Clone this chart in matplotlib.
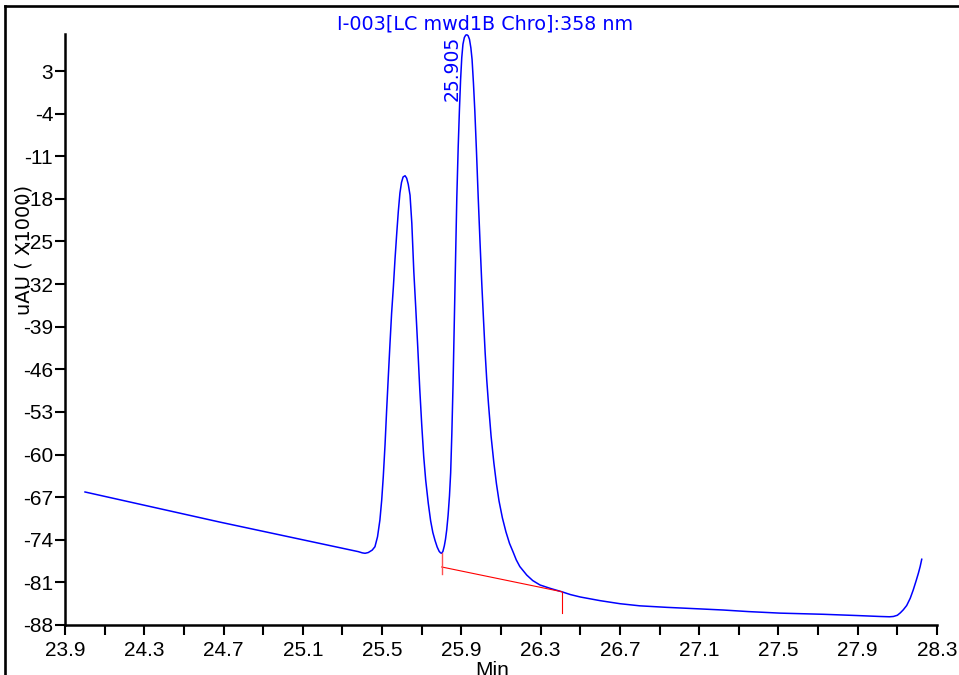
import matplotlib
matplotlib.use("Agg")
import matplotlib.pyplot as plt
from matplotlib.lines import Line2D

# ---- data ----
time_min = [24.001, 24.682, 25.380, 25.400, 25.414, 25.430, 25.450, 25.464, 25.477,
            25.489, 25.498, 25.506, 25.515, 25.523, 25.532, 25.540, 25.548, 25.557,
            25.565, 25.574, 25.582, 25.590, 25.598, 25.606, 25.616, 25.624, 25.632,
            25.641, 25.650, 25.660, 25.670, 25.680, 25.690, 25.700, 25.710, 25.720,
            25.733, 25.745, 25.756, 25.767, 25.778, 25.788, 25.795, 25.801, 25.807,
            25.814, 25.820, 25.826, 25.833, 25.840, 25.846, 25.852, 25.858, 25.863,
            25.870, 25.877, 25.884, 25.890, 25.896, 25.902, 25.908, 25.915, 25.922,
            25.928, 25.934, 25.941, 25.948, 25.954, 25.961, 25.968, 25.976, 25.985,
            25.994, 26.003, 26.012, 26.020, 26.028, 26.037, 26.050, 26.064, 26.077,
            26.090, 26.107, 26.125, 26.143, 26.161, 26.177, 26.195, 26.215, 26.230,
            26.260, 26.297, 26.350, 26.406, 26.450, 26.500, 26.550, 26.600, 26.700,
            26.800, 26.936, 27.100, 27.222, 27.350, 27.508, 27.726, 27.900, 28.012,
            28.060, 28.080, 28.100, 28.115, 28.130, 28.147, 28.165, 28.180, 28.195,
            28.206, 28.215, 28.223]
signal = [-66.15, -71.10, -75.95, -76.15, -76.22, -76.10, -75.70, -75.14, -73.50,
          -70.75, -67.50, -63.64, -58.30, -52.68, -46.80, -41.68, -36.80, -32.43,
          -28.00, -23.61, -20.00, -17.04, -15.30, -14.40, -14.20, -14.60, -15.60,
          -17.40, -22.00, -29.90, -36.00, -42.40, -49.20, -55.10, -60.30, -64.20,
          -68.00, -70.90, -72.80, -74.10, -75.20, -75.90, -76.15, -76.22, -75.90,
          -75.00, -73.90, -72.40, -70.00, -66.80, -63.00, -56.50, -48.50, -40.40,
          -29.00, -17.80, -9.50, -3.60, 1.50, 5.20, 7.40, 8.50, 8.90,
          8.95, 8.80, 8.20, 6.80, 4.90, 1.00, -3.60, -10.00, -17.76,
          -25.00, -31.90, -38.00, -43.26, -47.70, -51.75, -57.00, -61.37, -64.80,
          -67.62, -70.40, -72.71, -74.60, -76.00, -77.30, -78.40, -79.20, -79.80,
          -80.70, -81.43, -82.00, -82.53, -83.00, -83.40, -83.70, -84.00, -84.50,
          -84.85, -85.10, -85.35, -85.54, -85.80, -86.05, -86.24, -86.45, -86.60,
          -86.65, -86.60, -86.40, -86.00, -85.50, -84.80, -83.60, -82.25, -80.70,
          -79.50, -78.40, -77.20]

baseline_t = [25.801, 26.406]
baseline_v = [-78.47, -82.53]
marker_start = [-76.17, -79.62]
marker_end = [-82.53, -85.98]

peak_label = "25.905"
peak_label_pos = (25.855, 3.5)
title = "I-003[LC mwd1B Chro]:358 nm"

xtick_vals = [23.9 + 0.2 * i for i in range(23)]
xtick_labels = ["23.9", "", "24.3", "", "24.7", "", "25.1", "", "25.5", "", "25.9", "",
                "26.3", "", "26.7", "", "27.1", "", "27.5", "", "27.9", "", "28.3"]
ytick_vals = [3, -4, -11, -18, -25, -32, -39, -46, -53, -60, -67, -74, -81, -88]
ytick_labels = ["3", "-4", "-11", "-18", "-25", "-32", "-39", "-46", "-53", "-60",
                "-67", "-74", "-81", "-88"]

W, H = 959, 675
fig = plt.figure(figsize=(W / 100, H / 100), dpi=100)
ax = fig.add_axes([65 / W, 1 - 625 / H, (937 - 65) / W, (625 - 34.5) / H])

ax.plot(time_min, signal, color="#0000ff", lw=1.1, solid_joinstyle="round", clip_on=False)
ax.plot(baseline_t, baseline_v, color="#ff0000", lw=0.8)
ax.plot([baseline_t[0]] * 2, marker_start, color="#ff5050", lw=1.0)
ax.plot([baseline_t[1]] * 2, marker_end, color="#ff0000", lw=0.8)

ax.set_xlim(23.9, 28.3)
ax.set_ylim(-88, 9.0)

for s in ["top", "right"]:
    ax.spines[s].set_visible(False)
for s in ["left", "bottom"]:
    ax.spines[s].set_linewidth(1.8)

lab_font = dict(family="Liberation Sans", size=15)
ax.set_xticks(xtick_vals)
ax.set_xticklabels(xtick_labels, **lab_font)
ax.set_yticks(ytick_vals)
ax.set_yticklabels(ytick_labels, **lab_font)
ax.tick_params(axis="x", direction="out", length=7.5, width=1.5, pad=4)
ax.tick_params(axis="y", direction="out", length=7, width=1.5, pad=1.5)

ax.text(peak_label_pos[0], peak_label_pos[1], peak_label, rotation=90, color="#0000ff",
        ha="center", va="center", family="DejaVu Sans", size=13.5)

fig.text(485 / W, 1 - 29.5 / H, title, color="#0000ff", ha="center", va="baseline",
         family="DejaVu Sans", size=13.8)
fig.text(24 / W, 1 - 250 / H, "uAU ( X1000)", rotation=90, ha="center", va="center",
         family="DejaVu Sans", size=14)
fig.text(492 / W, 1 - 661 / H, "Min", ha="center", va="top", **lab_font)

# outer frame
fig.add_artist(Line2D([4.7 / W, 1.0], [1 - 6.2 / H, 1 - 6.2 / H], color="black", lw=1.9,
                      transform=fig.transFigure))
fig.add_artist(Line2D([4.7 / W, 4.7 / W], [1 - 6.2 / H, 0.0], color="black", lw=1.9,
                      transform=fig.transFigure))

fig.savefig("out.png", dpi=100)
